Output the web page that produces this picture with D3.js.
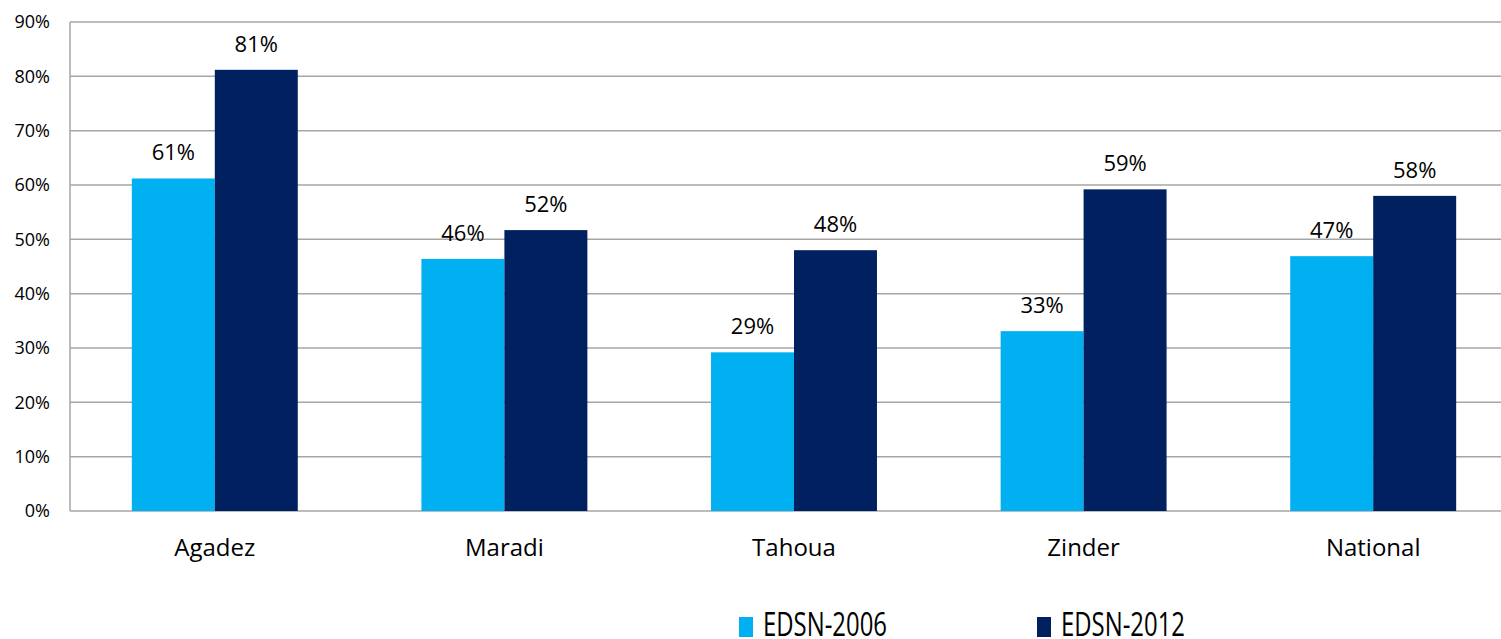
<!DOCTYPE html>
<html><head><meta charset="utf-8">
<script src="https://cdn.jsdelivr.net/npm/d3@7"></script>
<style>body{margin:0;background:#fff}svg{display:block;font-family:"Open Sans","Liberation Sans",sans-serif}</style>
</head><body><svg id="c" width="1501" height="639"></svg>
<script>
const categories = ["Agadez","Maradi","Tahoua","Zinder","National"];
const series = ["EDSN-2006","EDSN-2012"];
const edsn2006 = [0.612, 0.464, 0.292, 0.331, 0.469];
const edsn2012 = [0.812, 0.517, 0.480, 0.592, 0.580];
const dataLabels2006 = ["61%","46%","29%","33%","47%"];
const dataLabels2012 = ["81%","52%","48%","59%","58%"];
const yTicks = [0,0.1,0.2,0.3,0.4,0.5,0.6,0.7,0.8,0.9];
const colors = ["#00B0F0","#002060"];

(function(){
const svg = d3.select("#c");
const mLeft = 70, mTop = 22, mBottom = 511, step = 289.6;
const y = d3.scaleLinear().domain([0,0.9]).range([mBottom, mTop]);
const x0 = d3.scaleBand().domain(categories).range([mLeft, mLeft + step*categories.length]).padding(0);
const groupW = x0.bandwidth()*0.573;
const x1 = d3.scaleBand().domain(series).range([0, groupW]).padding(0);

svg.append("g").selectAll("line").data(yTicks).join("line")
  .attr("x1", mLeft).attr("x2", 1501)
  .attr("y1", d=>y(d)).attr("y2", d=>y(d))
  .attr("stroke", "#a6a6a6").attr("stroke-width", 1.5);
svg.append("line").attr("x1", mLeft).attr("x2", mLeft).attr("y1", mTop).attr("y2", mBottom)
  .attr("stroke","#a6a6a6").attr("stroke-width",1.5);

svg.append("g").selectAll("text").data(yTicks).join("text")
  .attr("x", 50).attr("y", d=>y(d)).attr("dy","0.35em")
  .attr("text-anchor","end").attr("font-size",18).attr("fill","#000")
  .text(d=>d3.format(".0%")(d));

const vals = [edsn2006, edsn2012];
const labs = [dataLabels2006, dataLabels2012];
series.forEach((s, si) => {
  const g = svg.append("g");
  g.selectAll("rect").data(categories).join("rect")
    .attr("x", (c)=> x0(c) + (x0.bandwidth()-groupW)/2 + x1(s))
    .attr("width", x1.bandwidth())
    .attr("y", (c,i)=> y(vals[si][i]))
    .attr("height", (c,i)=> mBottom - y(vals[si][i]))
    .attr("fill", colors[si]);
  g.selectAll("text").data(categories).join("text")
    .attr("x", (c)=> x0(c) + (x0.bandwidth()-groupW)/2 + x1(s) + x1.bandwidth()/2)
    .attr("y", (c,i)=> y(vals[si][i]) - 18)
    .attr("text-anchor","middle").attr("font-size",22).attr("fill","#000")
    .text((c,i)=> labs[si][i]);
});

svg.append("g").selectAll("text").data(categories).join("text")
  .attr("x", c=> x0(c)+x0.bandwidth()/2 ).attr("y", 556)
  .attr("text-anchor","middle").attr("font-size",24).attr("fill","#000")
  .text(c=>c);

const legX = [739, 1037];
series.forEach((s, si) => {
  svg.append("rect").attr("x", legX[si]).attr("y", 617).attr("width", 14).attr("height", 20).attr("fill", colors[si]);
  svg.append("text").attr("x", legX[si]+24).attr("y", 636).attr("font-size", 32)
    .attr("textLength", 124).attr("lengthAdjust","spacingAndGlyphs").attr("fill","#000").text(s);
});
})();
</script></body></html>
